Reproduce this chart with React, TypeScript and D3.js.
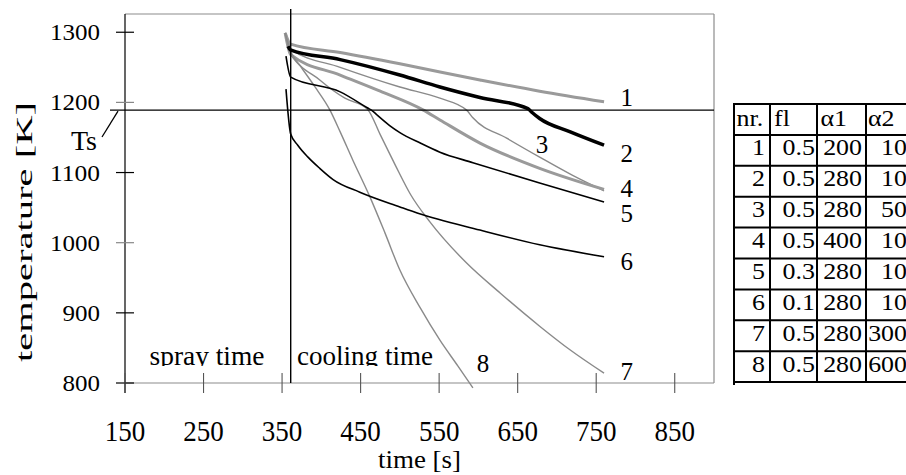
import React from "react";
import * as d3 from "d3";

const W = 906;
const H = 475;

// Axis ticks
const xTicks = [150, 250, 350, 450, 550, 650, 750, 850];
const yTicks = [800, 900, 1000, 1100, 1200, 1300];
const greyYTicks = [1000, 1200];

// Solidus temperature and the moment spraying stops
const Ts = 1189;
const coolingStart = 361;

// Temperature histories [time s, temperature K]
const run1: [number, number][] = [
  [354, 1299], [361, 1283], [424, 1271], [500, 1255], [602, 1232], [678, 1216], [760, 1201],
];
const run2: [number, number][] = [
  [357.6, 1280], [360.5, 1275], [424, 1261], [500, 1239], [551, 1222], [602, 1207],
  [663, 1191], [668, 1186], [678, 1177], [717, 1158], [760, 1139],
];
const run3: [number, number][] = [
  [354, 1299], [361, 1276], [424, 1250], [500, 1222], [551, 1206], [585, 1189],
  [593, 1178], [636, 1149], [678, 1122], [720, 1096], [760, 1074],
];
const run4: [number, number][] = [
  [354, 1299], [361, 1268], [424, 1239], [475, 1216], [530, 1189], [551, 1175],
  [602, 1142], [678, 1106], [760, 1076],
];
const run5: [number, number][] = [
  [355, 1266], [361, 1236], [424, 1215], [459, 1192], [465, 1188], [471, 1182],
  [487, 1167], [500, 1157], [526, 1142], [551, 1129], [593, 1114], [678, 1085], [760, 1058],
];
const run6: [number, number][] = [
  [355, 1219], [361, 1155], [370, 1139], [383, 1122], [398, 1106], [415, 1090],
  [449, 1072], [500, 1051], [523, 1042], [602, 1018], [678, 997], [760, 980],
];
const run7: [number, number][] = [
  [354, 1299], [361, 1272], [398, 1232], [430, 1206], [459, 1190], [475, 1154],
  [494, 1111], [514, 1068], [538, 1030], [585, 971], [628, 928], [678, 881],
  [717, 847], [760, 814],
];
const run8: [number, number][] = [
  [354, 1299], [360, 1272], [373, 1252], [392, 1222], [411, 1189], [424, 1158],
  [440, 1118], [462, 1065], [481, 1014], [500, 961], [526, 907], [551, 861],
  [574, 824], [593, 793],
];

const runs = [run1, run2, run3, run4, run5, run6, run7, run8];
const runStroke = ["#9a9a9a", "#000", "#8a8a8a", "#9a9a9a", "#000", "#000", "#8a8a8a", "#8a8a8a"];
const runWidth = [3, 3.5, 1.4, 3, 1.6, 1.6, 1.4, 1.4];
const drawOrder = [0, 2, 3, 6, 7, 4, 5, 1];

// Curve numbers placed beside their lines [time, temperature]
const runLabels = ["1", "2", "3", "4", "5", "6", "7", "8"];
const runLabelAt: [number, number][] = [
  [789, 1195], [789, 1115], [681, 1128], [789, 1065],
  [789, 1030], [789, 961], [789, 804], [606, 816],
];

// Parameter table
const tableHeader = ["nr.", "fl", "\u03b11", "\u03b12"];
const colNr = ["1", "2", "3", "4", "5", "6", "7", "8"];
const colFl = ["0.5", "0.5", "0.5", "0.5", "0.3", "0.1", "0.5", "0.5"];
const colA1 = ["200", "280", "280", "400", "280", "280", "280", "280"];
const colA2 = ["10", "10", "50", "10", "10", "10", "300", "600"];

const serif = "'Liberation Serif', 'Times New Roman', serif";

export default function App() {
  const x = d3.scaleLinear().domain([150, 900]).range([125, 714]);
  const y = d3.scaleLinear().domain([800, 1326]).range([383, 14]);
  const line = d3
    .line<[number, number]>()
    .x((d) => x(d[0]))
    .y((d) => y(d[1]))
    .curve(d3.curveMonotoneX);

  const left = x.range()[0];
  const right = x.range()[1];
  const bottom = y.range()[0];
  const top = y.range()[1];

  // table geometry
  const tLeft = 734;
  const colLines = [tLeft, 770, 817, 866];
  const rowTop = 104;
  const rowH = 30.9;
  const rowLines = d3.range(10).map((i) => rowTop + i * rowH);
  const cols = [colNr, colFl, colA1, colA2];
  const colRight = [765, 815, 862, 907];
  const headerX = [736.5, 774, 820.5, 868];

  return (
    <svg
      width={W}
      height={H}
      viewBox={`0 0 ${W} ${H}`}
      style={{ position: "absolute", left: 0, top: 0, background: "#fff" }}
      fontFamily={serif}
    >
      <defs>
        <clipPath id="phase-clip">
          <rect x={0} y={0} width={W} height={366} />
        </clipPath>
      </defs>
      <rect x={0} y={0} width={W} height={H} fill="#fff" />

      {/* frame */}
      <line x1={left} x2={right} y1={top} y2={top} stroke="#8c8c8c" strokeWidth={1.2} />
      <line x1={right} x2={right} y1={top} y2={bottom} stroke="#8c8c8c" strokeWidth={1.2} />
      <line x1={left} x2={right} y1={bottom} y2={bottom} stroke="#8c8c8c" strokeWidth={1.2} />
      <line x1={left} x2={left} y1={top} y2={bottom + 10} stroke="#000" strokeWidth={1.2} />

      {/* y ticks */}
      {yTicks.map((t) => (
        <g key={`yt${t}`}>
          <line
            x1={left - 9}
            x2={left + 9}
            y1={y(t)}
            y2={y(t)}
            stroke={greyYTicks.includes(t) ? "#888" : "#000"}
            strokeWidth={1.2}
          />
          <text
            x={100}
            y={y(t) + 8}
            fontSize={24}
            textAnchor="end"
            textLength={String(t).length * 12.5}
            lengthAdjust="spacingAndGlyphs"
          >
            {t}
          </text>
        </g>
      ))}

      {/* x ticks */}
      {xTicks.map((t) => (
        <g key={`xt${t}`}>
          <line x1={x(t)} x2={x(t)} y1={bottom - 10} y2={bottom + 10} stroke="#555" strokeWidth={1.1} />
          <text
            x={x(t)}
            y={441}
            fontSize={30}
            textAnchor="middle"
            textLength={40.5}
            lengthAdjust="spacingAndGlyphs"
          >
            {t}
          </text>
        </g>
      ))}

      {/* axis titles */}
      <text x={419.5} y={467.5} fontSize={26} textAnchor="middle" textLength={83} lengthAdjust="spacingAndGlyphs">
        time [s]
      </text>
      <text
        transform={`translate(31.5, 232) rotate(-90)`}
        fontSize={24}
        textAnchor="middle"
        textLength={260}
        lengthAdjust="spacingAndGlyphs"
      >
        temperature [K]
      </text>

      {/* curves */}
      {drawOrder.map((i) => (
        <path
          key={`run${i}`}
          d={line(runs[i]) || ""}
          fill="none"
          stroke={runStroke[i]}
          strokeWidth={runWidth[i]}
          strokeLinejoin="round"
        />
      ))}

      {/* Ts line and marker */}
      <line x1={110} x2={right} y1={y(Ts)} y2={y(Ts)} stroke="#000" strokeWidth={1.4} />
      <line x1={118} y1={y(Ts) + 1} x2={102} y2={137} stroke="#000" strokeWidth={1.3} />
      <text x={97} y={150} fontSize={28} textAnchor="end">
        Ts
      </text>

      {/* end of spraying */}
      <line x1={x(coolingStart)} x2={x(coolingStart)} y1={9} y2={bottom} stroke="#000" strokeWidth={1.4} />

      {/* phase labels */}
      <g clipPath="url(#phase-clip)">
        <text x={149.5} y={365} fontSize={27} textLength={115} lengthAdjust="spacingAndGlyphs">
          spray time
        </text>
        <text x={297} y={365} fontSize={27} textLength={136} lengthAdjust="spacingAndGlyphs">
          cooling time
        </text>
      </g>

      {/* curve numbers */}
      {runLabels.map((s, i) => (
        <text key={`lab${s}`} x={x(runLabelAt[i][0])} y={y(runLabelAt[i][1])} fontSize={25} textAnchor="middle">
          {s}
        </text>
      ))}

      {/* parameter table */}
      {rowLines.map((ry, i) => (
        <line key={`rl${i}`} x1={tLeft - 1} x2={W} y1={ry} y2={ry} stroke="#000" strokeWidth={2} />
      ))}
      {colLines.map((cx, i) => (
        <line
          key={`cl${i}`}
          x1={cx}
          x2={cx}
          y1={rowTop - 1}
          y2={i === 0 ? rowLines[9] + 3 : rowLines[9]}
          stroke="#000"
          strokeWidth={2}
        />
      ))}
      {tableHeader.map((h, i) => (
        <text key={`th${i}`} transform={`translate(${headerX[i]}, ${rowTop + 21.5}) scale(1.08,1)`} fontSize={24}>
          {h}
        </text>
      ))}
      {cols.map((col, c) =>
        col.map((v, r) => (
          <text
            key={`td${c}-${r}`}
            transform={`translate(${colRight[c]}, ${rowTop + (r + 1) * rowH + 20.5}) scale(1.08,1)`}
            fontSize={24}
            textAnchor="end"
          >
            {v}
          </text>
        ))
      )}
    </svg>
  );
}
